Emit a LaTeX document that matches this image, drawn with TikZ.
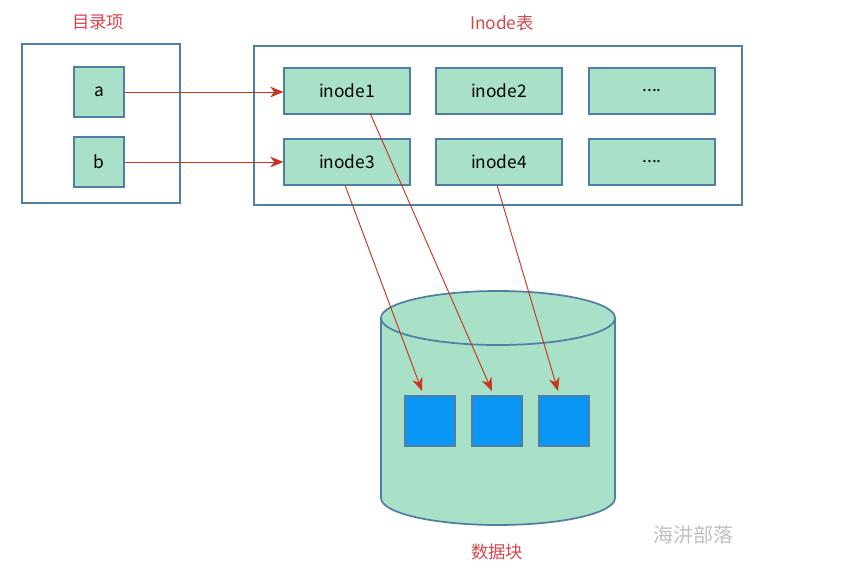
\documentclass[tikz,border=0pt]{standalone}
\usepackage{fontspec}
\setmainfont{Noto Sans CJK SC}
\usetikzlibrary{arrows.meta}
\definecolor{boxfill}{HTML}{A8E0C8}
\definecolor{boxline}{HTML}{4F7FA3}
\definecolor{arrowred}{HTML}{C8341E}
\definecolor{labelred}{HTML}{D7474F}
\definecolor{blockblue}{HTML}{0A96F5}
\tikzset{
  cell/.style={draw=boxline,line width=1.3pt,fill=boxfill,font=\fontsize{13}{15}\selectfont},
  frame/.style={draw=boxline,line width=1.3pt},
  title/.style={text=labelred,font=\fontsize{13}{15}\selectfont},
  link/.style={draw=arrowred,line width=0.7pt,-{Stealth[length=10pt,width=8pt]}}
}
\begin{document}
\begin{tikzpicture}[x=0.75pt,y=-0.75pt]
  \useasboundingbox (0,0) rectangle (841,582);
  % directory
  \draw[frame] (22,44) rectangle (180,203);
  \node[title] (dirtitle) at (98,22) {目录项};
  \node[cell,minimum width=37.5pt,minimum height=37.5pt] (a) at (99,92) {a};
  \node[cell,minimum width=37.5pt,minimum height=37.5pt] (b) at (99,162) {b};
  % inode table
  \draw[frame] (254,46) rectangle (742,205);
  \node[title] (inodetitle) at (502,23) {Inode表};
  \foreach \n/\x/\y/\t in {i1/347/91/inode1,i2/499/91/inode2,i5/652/91/{....},
                           i3/347/162/inode3,i4/499/162/inode4,i6/652/162/{....}}{
    \node[cell,minimum width=94pt,minimum height=34pt] (\n) at (\x,\y) {\t};}
  % data blocks
  \fill[boxfill] (381,318) -- (381,498) arc[start angle=180,end angle=0,x radius=117,y radius=27]
    -- (615,318) arc[start angle=0,end angle=-180,x radius=117,y radius=27] -- cycle;
  \draw[frame] (381,318) -- (381,498) arc[start angle=180,end angle=0,x radius=117,y radius=27] -- (615,318);
  \draw[frame] (498,318) ellipse[x radius=117,y radius=27];
  \foreach \n/\x in {d1/430,d2/497,d3/564}{
    \node[draw=boxline,line width=1pt,fill=blockblue,minimum size=37.5pt,inner sep=0pt] (\n) at (\x,421) {};}
  \node[title] (datatitle) at (497,552) {数据块};
  \node[text=black!25,font=\fontsize{15}{17}\selectfont] (mark) at (693,535) {海汫部落};
  % link ends
  \coordinate (s3) at (345,185);
  \coordinate (s1) at (370,113);
  \coordinate (s4) at (497,185);
  \coordinate (e1) at (422,391);
  \coordinate (e2) at (492,391);
  \coordinate (e3) at (558,391);
  % links
  \draw[link] (a.east) -- (a.east -| i1.west);
  \draw[link] (b.east) -- (b.east -| i3.west);
  \draw[link] (s3) -- (e1);
  \draw[link] (s1) -- (e2);
  \draw[link] (s4) -- (e3);
\end{tikzpicture}
\end{document}
